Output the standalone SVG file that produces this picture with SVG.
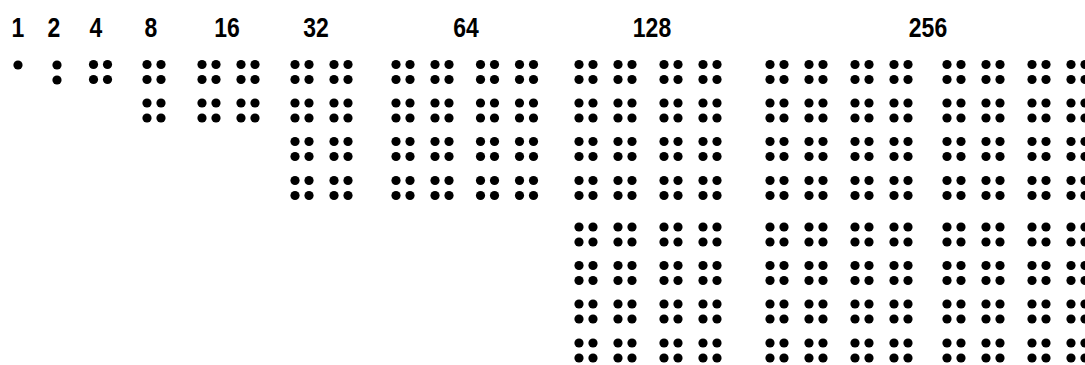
<svg xmlns="http://www.w3.org/2000/svg" xmlns:xlink="http://www.w3.org/1999/xlink" width="1085" height="365" viewBox="0 0 1085 365">
<style>
.lbl{font-family:"Liberation Sans",Arial,sans-serif;font-weight:bold;font-size:28px;fill:#000;text-anchor:middle}
.d{fill:#000}
</style>
<defs>
<g id="q"><circle class="d" cx="0" cy="0" r="4.6"/><circle class="d" cx="14" cy="0" r="4.6"/><circle class="d" cx="0" cy="15" r="4.6"/><circle class="d" cx="14" cy="15" r="4.6"/></g>
<g id="c4"><use xlink:href="#q"/><use xlink:href="#q" y="38.5"/><use xlink:href="#q" y="77"/><use xlink:href="#q" y="116"/></g>
<g id="c8"><use xlink:href="#c4"/><use xlink:href="#c4" y="162.5"/></g>
</defs>
<rect width="1085" height="365" fill="#fff"/>
<g id="n1"><text class="lbl" transform="translate(18,37) scale(0.82,1)">1</text><circle class="d" cx="18" cy="65" r="4.6"/></g>
<g id="n2"><text class="lbl" transform="translate(54,37) scale(0.82,1)">2</text><circle class="d" cx="57" cy="65" r="4.6"/><circle class="d" cx="57" cy="80" r="4.6"/></g>
<g id="n4"><text class="lbl" transform="translate(96,37) scale(0.82,1)">4</text><use xlink:href="#q" x="93.5" y="64.5"/></g>
<g id="n8"><text class="lbl" transform="translate(151,37) scale(0.82,1)">8</text><use xlink:href="#q" x="147" y="64.5"/><use xlink:href="#q" x="147" y="103"/></g>
<g id="n16"><text class="lbl" transform="translate(227,37) scale(0.82,1)">16</text><use xlink:href="#q" x="202" y="64.5"/><use xlink:href="#q" x="202" y="103"/><use xlink:href="#q" x="241" y="64.5"/><use xlink:href="#q" x="241" y="103"/></g>
<g id="n32"><text class="lbl" transform="translate(316,37) scale(0.82,1)">32</text><use xlink:href="#c4" x="295" y="64.5"/><use xlink:href="#c4" x="334" y="64.5"/></g>
<g id="n64"><text class="lbl" transform="translate(466,37) scale(0.82,1)">64</text><use xlink:href="#c4" x="396" y="64.5"/><use xlink:href="#c4" x="435" y="64.5"/><use xlink:href="#c4" x="480.5" y="64.5"/><use xlink:href="#c4" x="519.5" y="64.5"/></g>
<g id="n128"><text class="lbl" transform="translate(652,37) scale(0.82,1)">128</text><use xlink:href="#c8" x="579" y="64.5"/><use xlink:href="#c8" x="618" y="64.5"/><use xlink:href="#c8" x="664" y="64.5"/><use xlink:href="#c8" x="703" y="64.5"/></g>
<g id="n256"><text class="lbl" transform="translate(928,37) scale(0.82,1)">256</text><use xlink:href="#c8" x="770" y="64.5"/><use xlink:href="#c8" x="809" y="64.5"/><use xlink:href="#c8" x="855" y="64.5"/><use xlink:href="#c8" x="894" y="64.5"/><use xlink:href="#c8" x="947" y="64.5"/><use xlink:href="#c8" x="986" y="64.5"/><use xlink:href="#c8" x="1032" y="64.5"/><use xlink:href="#c8" x="1071" y="64.5"/></g>
<g id="connectors"/>
</svg>
